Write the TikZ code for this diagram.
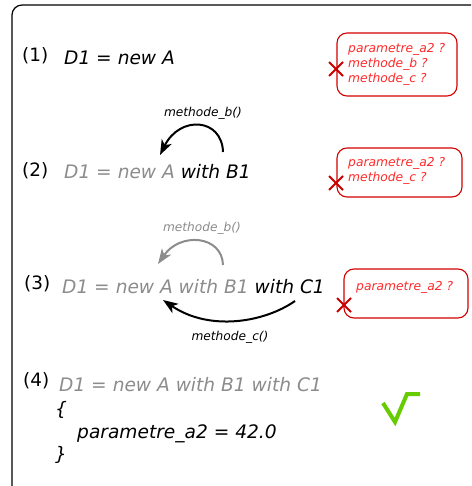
\documentclass[tikz,border=0pt]{standalone}
\usepackage{fontspec}
\setmainfont{DejaVu Sans}
\usetikzlibrary{arrows.meta}
\definecolor{greytxt}{HTML}{8C8C8C}
\definecolor{redbox}{HTML}{D40000}
\definecolor{redtxt}{HTML}{FF2A2A}
\definecolor{redx}{HTML}{C80000}
\definecolor{okgreen}{HTML}{66CC00}
\begin{document}
\begin{tikzpicture}[x=1pt,y=-1pt,
  numlbl/.style={anchor=base west,inner sep=0pt,font=\fontsize{18.4}{22}\selectfont},
  code/.style={anchor=base west,inner sep=0pt,font=\fontsize{18.6}{22}\selectfont\itshape},
  methlbl/.style={inner sep=0pt,font=\fontsize{12.2}{14}\selectfont\itshape},
  errtxt/.style={anchor=base west,inner sep=0pt,text=redtxt,align=left,font=\fontsize{12.3}{15}\selectfont\itshape},
  errbox/.style={draw=redbox,line width=1.1pt,rounded corners=10pt},
  cross/.style={draw=redx,line width=2pt},
  callarrow/.style={line width=2pt,-{Stealth[length=15pt,width=11pt,inset=4pt]}},
  frame/.style={draw=black,line width=1.2pt,rounded corners=10pt}]
\useasboundingbox (0,0) rectangle (471,486);
\clip (0,0) rectangle (471,486);
\draw[frame] (12,5) rectangle (490,505);

% row 1
\node[numlbl] (n1) at (22,62) {(1)};
\node[code] (c1) at (64,65) {D1 = new A};
\draw[errbox] (337,33) rectangle (457,96);
\node[errtxt] (e1a) at (348,53) {parametre\_a2 ?};
\node[errtxt] (e1b) at (348,68) {methode\_b ?};
\node[errtxt] (e1c) at (348,83) {methode\_c ?};
\coordinate (x1) at (336,69);
\draw[cross] ([shift={(-7,-7)}]x1) -- ([shift={(7,7)}]x1) ([shift={(-7,7)}]x1) -- ([shift={(7,-7)}]x1);

% row 2
\node[numlbl] (n2) at (22,176) {(2)};
\node[code] (c2) at (64,178.5) {\textcolor{greytxt}{D1 = new A} with B1};
\coordinate (a1s) at (223,152);
\coordinate (a1e) at (160,155);
\draw[callarrow] (a1s) .. controls (222,118) and (180,115) .. (a1e);
\node[methlbl] (m1) at (203,113) {methode\_b()};
\draw[errbox] (337,148) rectangle (462,197);
\node[errtxt] (e2a) at (348,167) {parametre\_a2 ?};
\node[errtxt] (e2b) at (348,182) {methode\_c ?};
\coordinate (x2) at (336,183);
\draw[cross] ([shift={(-7,-7)}]x2) -- ([shift={(7,7)}]x2) ([shift={(-7,7)}]x2) -- ([shift={(7,-7)}]x2);

% row 3
\node[numlbl] (n3) at (24,289) {(3)};
\node[code] (c3) at (62,293) {\textcolor{greytxt}{D1 = new A with B1} with C1};
\coordinate (a2s) at (223,265);
\coordinate (a2e) at (158,264);
\draw[callarrow,greytxt] (a2s) .. controls (222,235) and (180,232) .. (a2e);
\node[methlbl,text=greytxt] (m2) at (202,228) {methode\_b()};
\coordinate (a3s) at (295,301);
\coordinate (a3e) at (163,300);
\draw[callarrow] (a3s) .. controls (265,322) and (210,332) .. (a3e);
\node[methlbl] (m3) at (230,337) {methode\_c()};
\draw[errbox] (344,269) rectangle (468,318);
\node[errtxt] (e3a) at (356,290) {parametre\_a2 ?};
\coordinate (x3) at (344,305);
\draw[cross] ([shift={(-7,-7)}]x3) -- ([shift={(7,7)}]x3) ([shift={(-7,7)}]x3) -- ([shift={(7,-7)}]x3);

% row 4
\node[numlbl] (n4) at (23,386) {(4)};
\node[code,text=greytxt] (c4) at (59,391) {D1 = new A with B1 with C1};
\node[code] (b1) at (55,415) {\{};
\node[code] (p4) at (77,438) {parametre\_a2 = 42.0};
\node[code] (b2) at (55,460) {\}};
\coordinate (k1) at (383,403);
\coordinate (k2) at (395,422);
\coordinate (k3) at (407,394);
\coordinate (k4) at (420,394);
\draw[okgreen,line width=4pt] (k1) -- (k2) -- (k3) -- (k4);
\end{tikzpicture}
\end{document}
